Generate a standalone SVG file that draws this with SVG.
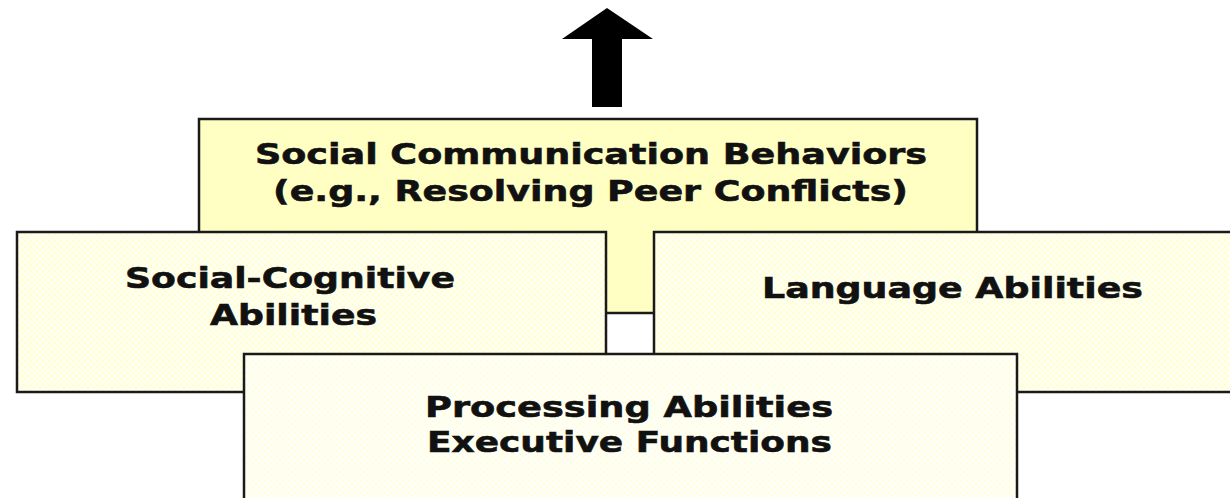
<svg xmlns="http://www.w3.org/2000/svg" width="1230" height="498" viewBox="0 0 1230 498">
  <style>
    .box { stroke: #1a1a1a; stroke-width: 2.5; }
    .top { fill: #ffffc4; }
    .dot { fill: url(#dots); }
    .dot2 { fill: url(#dots2); }
    .lbl { font-family: "DejaVu Sans", Verdana, sans-serif; font-weight: bold; font-size: 29px; fill: #111; stroke: #111; stroke-width: 0.6; }
  </style>
  <defs>
    <pattern id="dots" width="6" height="6" patternUnits="userSpaceOnUse">
      <rect width="6" height="6" fill="#fffff0"/>
      <rect x="0" y="0" width="2" height="2" fill="#ffffc8"/>
      <rect x="3" y="3" width="2" height="2" fill="#ffffc8"/>
    </pattern>
    <pattern id="dots2" width="6" height="6" patternUnits="userSpaceOnUse">
      <rect width="6" height="6" fill="#fffff6"/>
      <rect x="0" y="0" width="2" height="2" fill="#ffffdc"/>
      <rect x="3" y="3" width="2" height="2" fill="#ffffdc"/>
    </pattern>
  </defs>
  <rect width="1230" height="498" fill="#ffffff"/>

  <g id="connectors">
    <polygon points="607,8 653,39 622,39 622,107 592,107 592,39 562,39" fill="#000"/>
  </g>

  <g id="social-communication">
    <rect class="box top" x="199" y="119" width="778" height="194"/>
    <text class="lbl" x="591" y="164" text-anchor="middle" textLength="672" lengthAdjust="spacingAndGlyphs">Social Communication Behaviors</text>
    <text class="lbl" x="590.5" y="201" text-anchor="middle" textLength="635" lengthAdjust="spacingAndGlyphs">(e.g., Resolving Peer Conflicts)</text>
  </g>

  <g id="social-cognitive">
    <rect class="box dot" x="17" y="232" width="589" height="160"/>
    <text class="lbl" x="290" y="288" text-anchor="middle" textLength="330" lengthAdjust="spacingAndGlyphs">Social-Cognitive</text>
    <text class="lbl" x="293.5" y="325" text-anchor="middle" textLength="167" lengthAdjust="spacingAndGlyphs">Abilities</text>
  </g>

  <g id="language">
    <rect class="box dot" x="654" y="232" width="600" height="160"/>
    <text class="lbl" x="952.5" y="298" text-anchor="middle" textLength="381" lengthAdjust="spacingAndGlyphs">Language Abilities</text>
  </g>

  <g id="processing">
    <rect class="box dot2" x="244" y="354" width="773" height="170"/>
    <text class="lbl" x="629" y="417" text-anchor="middle" textLength="408" lengthAdjust="spacingAndGlyphs">Processing Abilities</text>
    <text class="lbl" x="629.5" y="452" text-anchor="middle" textLength="405" lengthAdjust="spacingAndGlyphs">Executive Functions</text>
  </g>
</svg>
